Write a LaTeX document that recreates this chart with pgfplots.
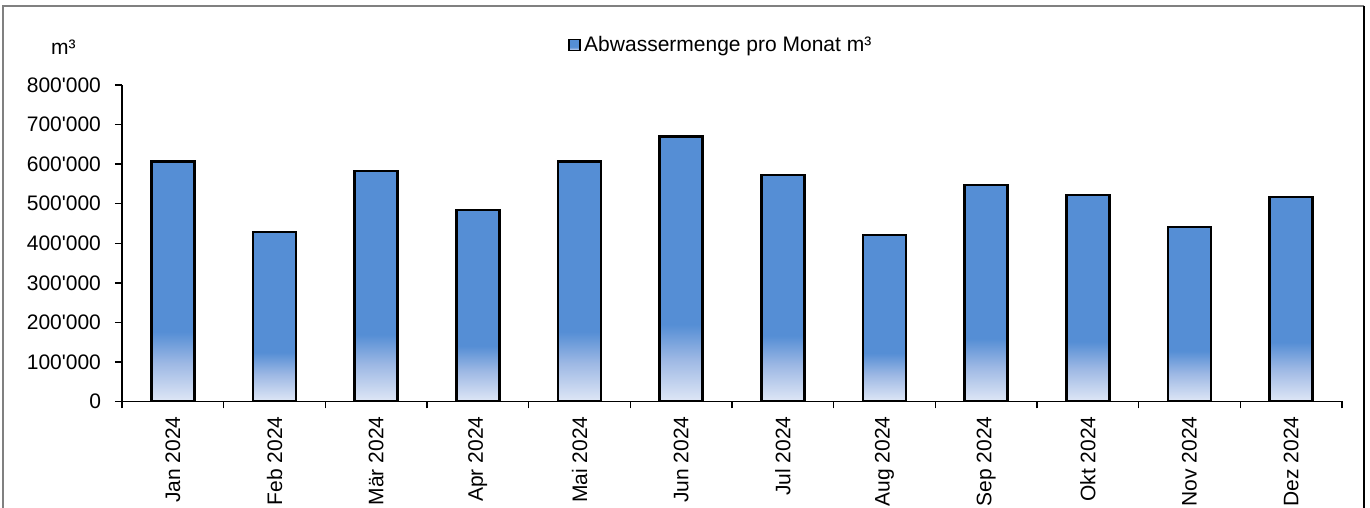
\documentclass[border=0pt]{standalone}
\usepackage{pgfplots}
\pgfplotsset{compat=1.18}
\usepackage{fontspec}
\setmainfont{Liberation Sans}[Ligatures=TeXOff]

\definecolor{barblue}{HTML}{558ED5}
\definecolor{barmid}{HTML}{9DB8E4}
\definecolor{barlight}{HTML}{DFE7F6}
\definecolor{framegray}{HTML}{808080}

% bar fill: pale at the foot, fading into full blue over the lower third
\pgfdeclareverticalshading{barshade}{100bp}{%
  color(0bp)=(barlight); color(25bp)=(barlight); color(33bp)=(barmid);
  color(39.5bp)=(barblue); color(100bp)=(barblue)}

% monthly volumes in m^3, one row per month
\pgfplotstableread{
idx  vol
0    607000
1    428000
2    583000
3    484000
4    607000
5    670000
6    573000
7    421000
8    548000
9    522000
10   441000
11   517000
}\volumes

\pgfplotsset{
  monthbar/.style={ybar, bar shift=0pt, bar width=21.5pt, draw=black,
    line width=1.2pt, shade, shading=barshade},
}

\begin{document}
\begin{tikzpicture}[font=\fontsize{10.5}{12.6}\selectfont]
\useasboundingbox (0,0) rectangle (685pt,254pt);
\draw[framegray, line width=1pt] (1.5pt,-5pt) -- (1.5pt,251pt) -- (682pt,251pt);
\draw[black, line width=1pt] (682pt,251pt) -- (682pt,-5pt);
\begin{axis}[
  at={(61pt,53.25pt)}, anchor=south west,
  scale only axis, width=610pt, height=158.25pt,
  xmin=-0.5, xmax=11.5, ymin=0, ymax=800000,
  axis x line*=bottom, axis y line*=left,
  axis line style={line width=0.75pt},
  tick style={line width=0.75pt, black},
  tick align=outside, major tick length=3.5pt,
  ytick={0,100000,...,800000},
  scaled y ticks=false,
  /pgf/number format/assume math mode=true,
  yticklabel style={xshift=-3.5pt, /pgf/number format/.cd, fixed, precision=0, 1000 sep={'}},
  xtick={-0.5,0.5,...,11.5}, xticklabels={},
  extra x ticks={0,...,11},
  extra x tick labels={Jan 2024,Feb 2024,Mär 2024,Apr 2024,Mai 2024,Jun 2024,Jul 2024,Aug 2024,Sep 2024,Okt 2024,Nov 2024,Dez 2024},
  extra x tick style={major tick length=0pt,
    xticklabel style={rotate=90, anchor=east, xshift=-4pt}},
  ylabel={m³},
  ylabel style={rotate=-90, at={(rel axis cs:-0.048,1.12)}, anchor=center},
  legend style={at={(rel axis cs:0.3656,1.1264)}, anchor=west, draw=none,
    fill=none, inner sep=0pt, nodes={inner sep=1.5pt}},
  legend image code/.code={%
    \draw[fill=barblue, draw=black, line width=0.9pt] (0pt,-2.75pt) rectangle (5.5pt,2.75pt);},
]
% one plot per month so that each bar carries its own gradient
\addplot[monthbar, restrict x to domain=0:0] table[x=idx, y=vol] {\volumes};
\addlegendentry{Abwassermenge pro Monat m³}
\pgfplotsinvokeforeach{1,...,11}{%
  \addplot[monthbar, forget plot, restrict x to domain=#1:#1]
    table[x=idx, y=vol] {\volumes};
}
\end{axis}
\end{tikzpicture}
\end{document}
